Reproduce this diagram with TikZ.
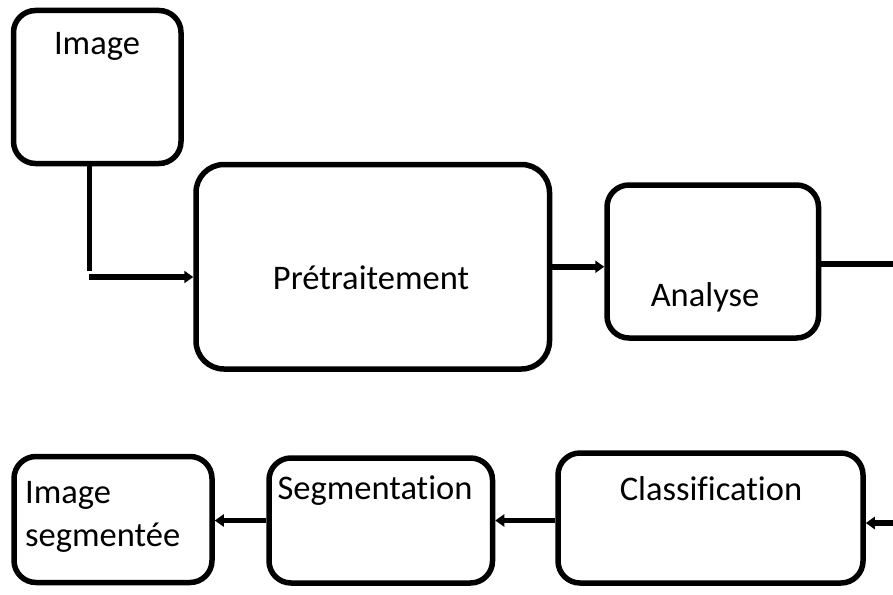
\documentclass[tikz,border=0pt]{standalone}
\usepackage{fontspec}
\setmainfont{Carlito}[Ligatures=NoCommon]
\usetikzlibrary{arrows.meta}

\begin{document}
\begin{tikzpicture}[x=1pt,y=-1pt,
    bloc/.style={draw, line width=5.5pt, rounded corners=#1, inner sep=0pt},
    bloc/.default=22pt,
    trait/.style={line width=5.5pt},
    fleche/.style={line width=5.5pt, -{Triangle[length=9pt,width=12pt]}},
    txt/.style={font=\fontsize{34.5}{41}\selectfont, inner sep=0pt}]
    \useasboundingbox (0,0) rectangle (893,594);
    \node[bloc, minimum width=167.5pt, minimum height=153pt] (img) at (97.25,87) {};
    \node[bloc=28pt, minimum width=353.5pt, minimum height=204.5pt] (pre) at (372.75,266.75) {};
    \node[bloc, minimum width=211.5pt, minimum height=153pt] (ana) at (712.75,261.5) {};
    \node[bloc, minimum width=305pt, minimum height=130pt] (cls) at (710.5,518) {};
    \node[bloc, minimum width=223.5pt, minimum height=125pt] (seg) at (380.75,520.5) {};
    \node[bloc, minimum width=198pt, minimum height=126pt] (imgseg) at (113,519.5) {};
    \node[txt, anchor=base] (t-img) at (97,55) {Image};
    \node[txt, anchor=base] (t-pre) at (371,289) {Prétraitement};
    \node[txt, anchor=base] (t-ana) at (705,306) {Analyse};
    \node[txt, anchor=base] (t-cls) at (711,500) {Classification};
    \node[txt, anchor=base] (t-seg) at (375,499) {Segmentation};
    \node[txt, anchor=base west] (t-imgseg1) at (25,503) {Image};
    \node[txt, anchor=base west] (t-imgseg2) at (25,546) {segmentée};
    \coordinate (coin) at (89.3,270.5);
    \coordinate (depart) at (89,277);
    \coordinate (sortie) at (893,264);
    \coordinate (entree) at (893,523);
    \draw[trait] (coin |- img.south) -- (coin);
    \draw[fleche] (depart) -- (depart -| pre.west);
    \draw[fleche] (pre.east) -- (pre.east -| ana.west);
    \draw[trait] (sortie -| ana.east) -- (sortie);
    \draw[fleche] (entree) -- (entree -| cls.east);
    \draw[fleche] (cls.west |- seg.east) -- (seg.east);
    \draw[fleche] (seg.west) -- (seg.west -| imgseg.east);
\end{tikzpicture}
\end{document}
